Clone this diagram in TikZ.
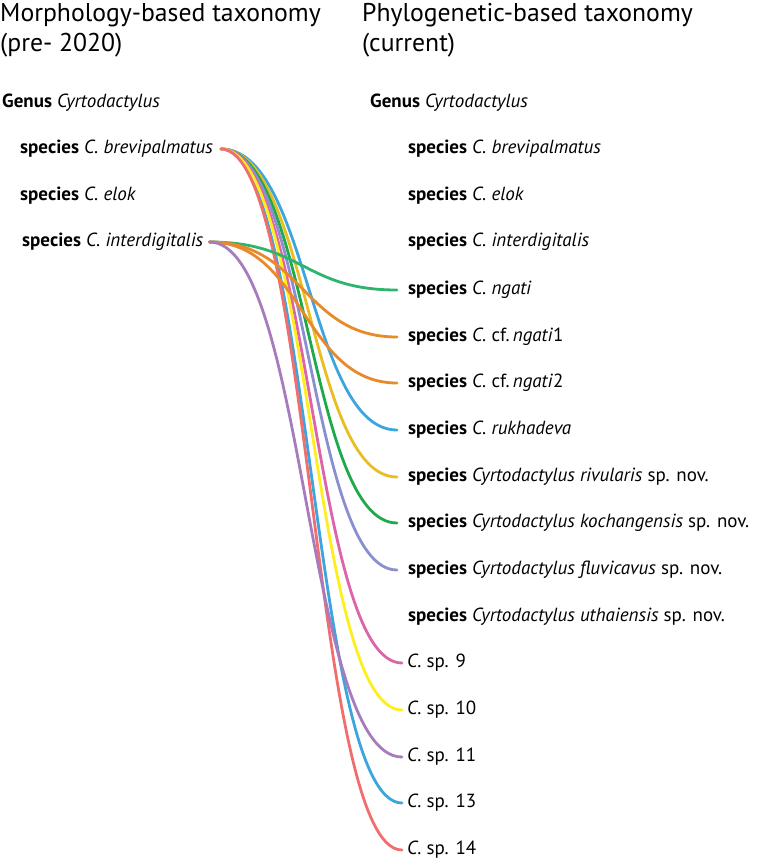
\documentclass[tikz,border=0pt]{standalone}
\usepackage{fontspec}
\setmainfont{PT Sans}
\usetikzlibrary{calc}

\definecolor{linkred}{RGB}{240,110,110}
\definecolor{linkpink}{RGB}{222,100,170}
\definecolor{linkyellow}{RGB}{255,238,30}
\definecolor{linkgold}{RGB}{232,190,35}
\definecolor{linkgreen}{RGB}{30,170,75}
\definecolor{linkteal}{RGB}{45,180,110}
\definecolor{linkblue}{RGB}{60,165,222}
\definecolor{linklav}{RGB}{138,143,208}
\definecolor{linkpurple}{RGB}{166,124,190}
\definecolor{linkorange}{RGB}{232,138,42}

\tikzset{
    heading/.style={anchor=north west, align=left, inner sep=0pt,
        font=\fontsize{25.7}{30}\selectfont},
    taxon/.style={anchor=west, inner sep=0pt, text height=13pt, text depth=5pt,
        font=\fontsize{19}{22}\selectfont},
    link/.style={line width=2.8pt, line cap=round},
}

% horizontal-in, horizontal-out curve between two points
\newcommand{\sigmoid}[3]{%
    \draw[link, #3] let \p1=(#1), \p2=(#2) in
        (\p1) .. controls ({(\x1+\x2)/2},\y1) and ({(\x1+\x2)/2},\y2) .. (\p2);}

\begin{document}
\begin{tikzpicture}[x=1pt, y=-1pt]
    \useasboundingbox (0,0) rectangle (756,860);

    % old taxonomy
    \node[heading] (lhead) at (0,3) {Morphology-based taxonomy\\(pre- 2020)};
    \node[taxon] (lgenus) at (2,103) {\textbf{Genus} \textit{Cyrtodactylus}};
    \node[taxon] (lbrev) at (20,149) {\textbf{species} \textit{C. brevipalmatus}};
    \node[taxon] (lelok) at (20,196) {\textbf{species} \textit{C. elok}};
    \node[taxon] (linter) at (22,242) {\textbf{species} \textit{C. interdigitalis}};

    % current taxonomy
    \node[heading] (rhead) at (362,3) {Phylogenetic-based taxonomy\\(current)};
    \node[taxon] (rgenus) at (370,103) {\textbf{Genus} \textit{Cyrtodactylus}};
    \node[taxon] (rbrev) at (408,149) {\textbf{species} \textit{C. brevipalmatus}};
    \node[taxon] (relok) at (408,196) {\textbf{species} \textit{C. elok}};
    \node[taxon] (rinter) at (408,242) {\textbf{species} \textit{C. interdigitalis}};
    \node[taxon] (rngati) at (408,290) {\textbf{species} \textit{C. ngati}};
    \node[taxon] (rcfa) at (408,337) {\textbf{species} \textit{C.} cf.\,\textit{ngati}1};
    \node[taxon] (rcfb) at (408,383) {\textbf{species} \textit{C.} cf.\,\textit{ngati}2};
    \node[taxon] (rrukh) at (408,430) {\textbf{species} \textit{C. rukhadeva}};
    \node[taxon] (rrivu) at (408,477) {\textbf{species} \textit{Cyrtodactylus rivularis} sp. nov.};
    \node[taxon] (rkoch) at (408,523) {\textbf{species} \textit{Cyrtodactylus kochangensis} sp. nov.};
    \node[taxon] (rfluv) at (408,570) {\textbf{species} \textit{Cyrtodactylus fluvicavus} sp. nov.};
    \node[taxon] (ruthai) at (408,617) {\textbf{species} \textit{Cyrtodactylus uthaiensis} sp. nov.};
    \node[taxon] (rsp9) at (407,663) {\textit{C.} sp. 9};
    \node[taxon] (rsp10) at (407,710) {\textit{C.} sp. 10};
    \node[taxon] (rsp11) at (407,757) {\textit{C.} sp. 11};
    \node[taxon] (rsp13) at (407,803) {\textit{C.} sp. 13};
    \node[taxon] (rsp14) at (407,850) {\textit{C.} sp. 14};

    % links
    \foreach \tgt/\col in {rrukh/linkblue, rrivu/linkgold, rkoch/linkgreen, rfluv/linklav}
        \sigmoid{[xshift=8pt]lbrev.east}{[xshift=-11pt]\tgt.west}{\col};
    \foreach \tgt/\col in {rsp13/linkblue, rsp9/linkpink, rsp10/linkyellow, rsp14/linkred}
        \sigmoid{[xshift=8pt]lbrev.east}{[xshift=-5pt]\tgt.west}{\col};
    \foreach \tgt/\col in {rngati/linkteal, rcfa/linkorange, rcfb/linkorange}
        \sigmoid{[xshift=6pt]linter.east}{[xshift=-11pt]\tgt.west}{\col};
    \sigmoid{[xshift=6pt]linter.east}{[xshift=-5pt]rsp11.west}{linkpurple};
\end{tikzpicture}
\end{document}
